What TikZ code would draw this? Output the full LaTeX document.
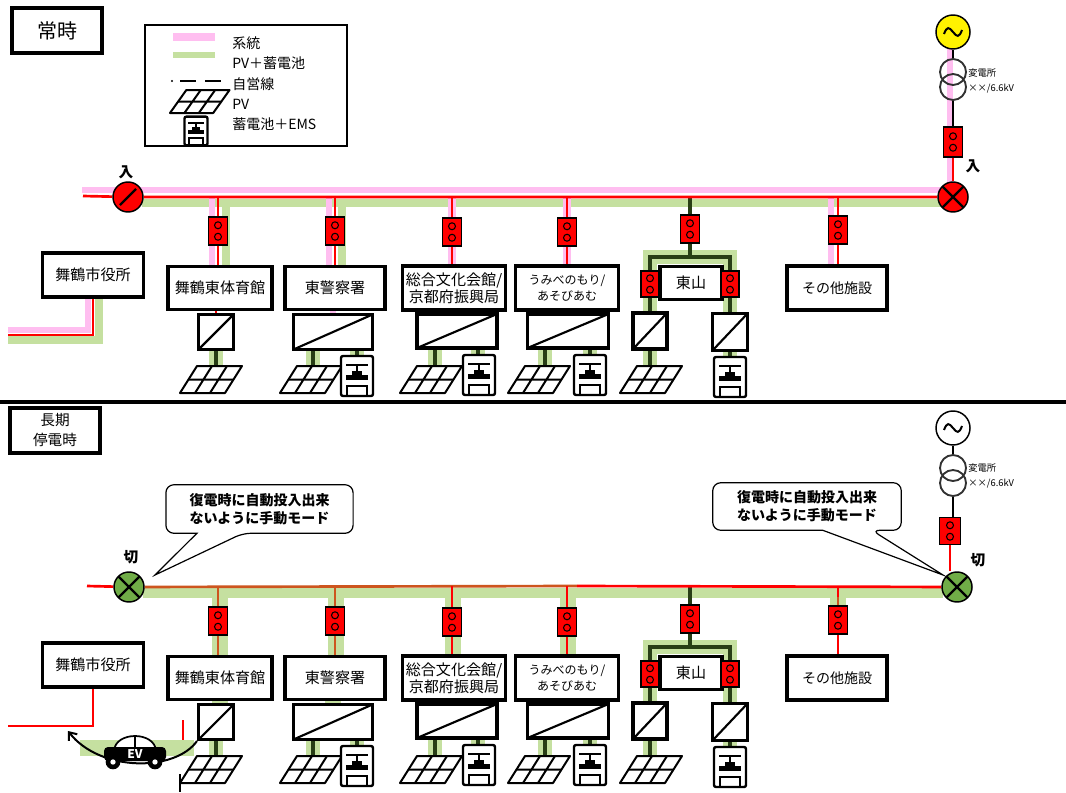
\documentclass[tikz,border=0pt]{standalone}
\usepackage{fontspec}
\setmainfont{Noto Sans CJK JP}
\usetikzlibrary{calc,arrows.meta}

\pgfdeclarelayer{bg}
\pgfdeclarelayer{mid}
\pgfsetlayers{bg,mid,main}

\definecolor{pinkband}{RGB}{255,190,240}
\definecolor{greenband}{RGB}{197,224,160}
\definecolor{dkgreen}{RGB}{40,62,22}
\definecolor{swgreen}{RGB}{112,173,71}
\definecolor{brn}{RGB}{205,85,30}
\definecolor{trgray}{RGB}{50,50,50}

\tikzset{
  bld/.style={draw, line width=2.3pt, fill=white, inner sep=1pt, align=center,
    font=\fontsize{11.3}{12.5}\selectfont},
  brk/.style={draw, fill=red, line width=1.3pt, inner sep=0pt,
    minimum width=14.25pt, minimum height=21pt,
    path picture={
      \draw[line width=0.8pt]
        ([yshift=4.3pt]path picture bounding box.center) circle[radius=2.6pt]
        ([yshift=-4.3pt]path picture bounding box.center) circle[radius=2.6pt];
      \fill ([shift={(0.8pt,4.3pt)}]path picture bounding box.center) circle[radius=0.9pt]
        ([shift={(0.8pt,-4.3pt)}]path picture bounding box.center) circle[radius=0.9pt];}},
  pcs/.style={draw, fill=white, line width=2.3pt, inner sep=0pt,
    path picture={\draw[line width=1.6pt] (path picture bounding box.south west)
      -- (path picture bounding box.north east);}},
  sw/.style={circle, draw, line width=1.1pt, inner sep=0pt, minimum size=22.5pt},
  slash/.style={path picture={\draw[line width=1.8pt]
      ([shift={(-6pt,-6pt)}]path picture bounding box.center) --
      ([shift={(6pt,6pt)}]path picture bounding box.center);}},
  crossed/.style={path picture={\draw[line width=1.8pt]
      ([shift={(-8pt,-8pt)}]path picture bounding box.center) -- ([shift={(8pt,8pt)}]path picture bounding box.center)
      ([shift={(-8pt,8pt)}]path picture bounding box.center) -- ([shift={(8pt,-8pt)}]path picture bounding box.center);}},
  titlebox/.style={draw, line width=3pt, fill=white, inner sep=1pt, align=center},
  calloutline/.style={line width=0.9pt, fill=white},
  callouttext/.style={inner sep=0pt, align=center, font=\bfseries\fontsize{10.5}{13.5}\selectfont},
  gen/.style={circle, draw, line width=1.1pt, minimum size=25.5pt, inner sep=0pt},
  trafo/.style={circle, draw=trgray, line width=1.4pt, minimum size=19.5pt, inner sep=0pt},
  swlabel/.style={font=\bfseries\fontsize{11}{12}\selectfont},
  subtxt/.style={font=\fontsize{7}{8}\selectfont, anchor=west, inner sep=0pt},
  legtext/.style={font=\fontsize{10.5}{12}\selectfont, anchor=west, inner sep=0pt},
  feed/.style={red, line width=2pt},
  pinkL/.style={pinkband, line width=5pt},
  greenL/.style={greenband, line width=6.5pt},
  band/.style={greenband, line width=11pt},
  dk/.style={dkgreen, line width=2.6pt},
  pv/.pic={
    \draw[line width=1.5pt, fill=white, line join=round]
      (0,0) -- (45,0) -- (62,-27) -- (17,-27) -- cycle;
    \draw[line width=1.5pt]
      (15,0) -- (32,-27) (30,0) -- (47,-27) (8.5,-13.5) -- (53.5,-13.5);
  },
  batt/.pic={
    \draw[line width=1.8pt, fill=white, rounded corners=1.5pt] (-16,-20) rectangle (16,20);
    \draw[line width=1.4pt] (-11,-11) -- (11,-11) (0,-11) -- (0,-5);
    \fill (-5,-5) rectangle (5,-1);
    \fill (-11,-1) rectangle (11,4);
    \draw[line width=1.4pt] (-10,20) -- (-10,10) -- (10,10) -- (10,20);
  },
}

% Facilities, breakers, power conditioners, PV and batteries of one network
\newcommand\Plant[1]{%
  \node[bld, minimum width=75.75pt, minimum height=33pt] (b0#1) at (93,275) {舞鶴市役所};
  \node[bld, minimum width=78pt, minimum height=32.25pt] (b1#1) at (220,288) {舞鶴東体育館};
  \node[bld, minimum width=75pt, minimum height=32.25pt] (b2#1) at (335,288) {東警察署};
  \node[bld, minimum width=77.25pt, minimum height=33pt] (b3#1) at (454,288) {総合文化会館/\\京都府振興局};
  \node[bld, minimum width=77.25pt, minimum height=33pt, font=\fontsize{9}{12}\selectfont] (b4#1) at (567,288) {うみべのもり/\\あそびあむ};
  \node[bld, minimum width=46.5pt, minimum height=24.75pt] (b5#1) at (691,283) {東山};
  \node[bld, minimum width=75pt, minimum height=33pt, font=\fontsize{10.5}{12}\selectfont] (b6#1) at (837,288) {その他施設};
  \node[brk] (k1#1) at (218,231) {};
  \node[brk] (k2#1) at (335,231) {};
  \node[brk] (k3#1) at (452,232) {};
  \node[brk] (k4#1) at (567,232) {};
  \node[brk] (k5#1) at (690,229) {};
  \node[brk, minimum width=13.5pt, minimum height=19.5pt] (k5L#1) at (650,284) {};
  \node[brk, minimum width=13.5pt, minimum height=19.5pt] (k5R#1) at (730,284) {};
  \node[brk] (k6#1) at (838,230) {};
  \node[pcs, minimum width=26.25pt, minimum height=26.25pt] (p1#1) at (216,332) {};
  \node[pcs, minimum width=59.25pt, minimum height=26.25pt] (p2#1) at (333,332) {};
  \node[pcs, minimum width=60pt, minimum height=25.5pt] (p3#1) at (457,331) {};
  \node[pcs, minimum width=60.75pt, minimum height=25.5pt] (p4#1) at (568,331) {};
  \node[pcs, minimum width=25.5pt, minimum height=27pt] (p5L#1) at (650,331) {};
  \node[pcs, minimum width=26.25pt, minimum height=27.75pt] (p5R#1) at (730,332) {};
  \pic at (180,393) {pv};
  \pic at (280,393) {pv};
  \pic at (400,393) {pv};
  \pic at (508,393) {pv};
  \pic at (620,393) {pv};
  \pic at (357,376) {batt};
  \pic at (479,375) {batt};
  \pic at (590,375) {batt};
  \pic at (730,377) {batt};
  \begin{pgfonlayer}{bg}
    \draw[band] (650,372) -- (650,257) -- (730,257) -- (730,360);
    \foreach \x in {216,313,435,545} \draw[band] (\x,345) -- (\x,368);
    \foreach \x in {357,478,590} \draw[band] (\x,345) -- (\x,357);
  \end{pgfonlayer}
  \begin{pgfonlayer}{mid}
    \draw[dk] (p1#1.south) -- ++(0,17);
    \draw[dk] ($(p2#1.south)+(-20,0)$) -- ++(0,17);
    \draw[dk] ($(p2#1.south)+(24,0)$) -- ++(0,6);
    \draw[dk] ($(p3#1.south)+(-22,0)$) -- ++(0,18);
    \draw[dk] ($(p3#1.south)+(21,0)$) -- ++(0,7);
    \draw[dk] ($(p4#1.south)+(-23,0)$) -- ++(0,18);
    \draw[dk] ($(p4#1.south)+(22,0)$) -- ++(0,7);
    \draw[dk] (k5#1 |- 0,196) -- (k5#1.north) (k5#1.south) -- (690,257) -| (k5L#1.north)
      (k5L#1.south) -- (p5L#1.north) (p5L#1.south) -- ++(0,17);
    \draw[dk] (690,257) -| (k5R#1.north) (k5R#1.south) -- (p5R#1.north) (p5R#1.south) -- ++(0,7);
  \end{pgfonlayer}
}

\begin{document}
\begin{tikzpicture}[x=0.75pt, y=-0.75pt]
\useasboundingbox (0,0) rectangle (1066,792);
\begin{pgfonlayer}{bg}
  \fill[white] (0,0) rectangle (1066,792);
\end{pgfonlayer}

% ================= normal operation =================
\node[titlebox, minimum width=67.5pt, minimum height=33.75pt, font=\fontsize{15}{16}\selectfont] (mode1) at (57,30.5) {常時};

% legend
\node[draw, line width=1pt, minimum width=151.5pt, minimum height=90.75pt] (leg) at (246,85.5) {};
\draw[pinkband, line width=6pt] (173,37) -- (215,37);
\draw[greenband, line width=4.5pt] (173,55) -- (215,55);
\fill (172,81) circle[radius=0.9pt];
\draw[line width=1.3pt] (180,81) -- (196,81) (205,81) -- (221,81);
\pic[xscale=0.96, yscale=0.85] at (170,113) {pv};
\pic[scale=0.72] at (196,131) {batt};
\node[legtext] (lg1) at (232,43) {系統};
\node[legtext] (lg2) at (232,63) {PV＋蓄電池};
\node[legtext] (lg3) at (232,84) {自営線};
\node[legtext] (lg4) at (232,104) {PV};
\node[legtext] (lg5) at (232,124) {蓄電池＋EMS};

% substation
\node[gen, fill=yellow] (genA) at (953,32) {};
\draw[line width=1.5pt] ($(genA.center)+(-9,2)$) .. controls +(3,-8) and +(-4,-5) .. ++(9,-2)
  .. controls +(4,5) and +(-3,8) .. ++(9,-2);
\node[trafo] (trA1) at (953,72) {};
\node[trafo] (trA2) at (953,87) {};
\node[brk, minimum height=22.5pt] (kSA) at (953,142) {};
\node[subtxt] (subA1) at (968,73) {変電所};
\node[subtxt] (subA2) at (968,89) {××/6.6kV};

% bus and switches
\coordinate (busT) at (0,196);
\node[sw, fill=red, slash] (swA) at (128,197) {};
\node[sw, fill=red, crossed] (swB) at (953,197) {};
\node[swlabel] (inA) at (126,172) {入};
\node[swlabel] (inB) at (973,166) {入};

\Plant{t}

\begin{pgfonlayer}{bg}
  \draw[pinkL] (82,190) -- (953,190);
  \draw[greenL] (142,203) -- (946,203);
  \draw[pinkL] (950,49) -- (950,190);
  % city hall
  \draw[pinkL] (88,297) -- (88,330) -- (8,330);
  \draw[greenL] (99,297) -- (99,340) -- (8,340);
  % feeders
  \draw[pinkL] (212,196) -- (212,266);
  \draw[greenL] (226,200) -- (226,266);
  \draw[pinkL] (329,196) -- (329,266) (333,309) -- (333,315);
  \draw[greenL] (342,200) -- (342,266);
  \draw[pinkL, line width=6pt] (452,196) -- (452,266) (455,309) -- (455,315);
  \draw[pinkL, line width=6pt] (567,196) -- (567,266) (567,309) -- (567,315);
  \draw[pinkL] (831,196) -- (831,266);
\end{pgfonlayer}
\begin{pgfonlayer}{mid}
  \draw[feed] (83,196) -- (swA) -- (swB);
  \draw[line width=1.5pt] (genA) -- (trA1) (trA2) -- (kSA);
  \draw[feed] (kSA) -- (swB);
  \draw[feed] (b0t.south) -- (b0t.south |- 0,335) -- (8,335);
  \draw[feed] (k1t |- busT) -- (k1t.north) (k1t.south) -- (k1t.south |- b1t.north)
    (p1t.north |- b1t.south) -- (p1t.north);
  \draw[feed] (k2t |- busT) -- (k2t.north) (k2t.south) -- (k2t.south |- b2t.north);
  \draw[feed] (k3t |- busT) -- (k3t.north) (k3t.south) -- (k3t.south |- b3t.north);
  \draw[feed] (k4t |- busT) -- (k4t.north) (k4t.south) -- (k4t.south |- b4t.north);
  \draw[feed] (k6t |- busT) -- (k6t.north) (k6t.south) -- (k6t.south |- b6t.north);
\end{pgfonlayer}

% ================= long outage =================
\draw[line width=2.5pt] (0,402) -- (1066,402);
\node[titlebox, minimum width=67.5pt, minimum height=33.75pt, font=\fontsize{11}{15}\selectfont] (mode2) at (55,430) {長期\\停電時};

% substation
\node[gen, fill=white] (genB) at (953,428) {};
\draw[line width=1.5pt] ($(genB.center)+(-9,2)$) .. controls +(3,-8) and +(-4,-5) .. ++(9,-2)
  .. controls +(4,5) and +(-3,8) .. ++(9,-2);
\node[trafo] (trB1) at (953,468) {};
\node[trafo] (trB2) at (953,483) {};
\node[brk, minimum width=15.75pt, minimum height=20.25pt] (kSB) at (950,531) {};
\node[subtxt] (subB1) at (968,468) {変電所};
\node[subtxt] (subB2) at (968,484) {××/6.6kV};

% bus and switches
\coordinate (busU) at (0,586);
\node[sw, fill=swgreen, crossed] (swC) at (129,587) {};
\node[sw, fill=swgreen, crossed] (swD) at (957,587) {};
\node[swlabel] (offC) at (131,557) {切};
\node[swlabel] (offD) at (978,560) {切};

% callouts
\node[callouttext, minimum width=140pt, minimum height=36pt] (c1) at (259.5,509) {復電時に自動投入出来\\ないように手動モード};
\node[callouttext, minimum width=141pt, minimum height=35.25pt] (c2) at (807,506.5) {復電時に自動投入出来\\ないように手動モード};

\begin{scope}[shift={(0,390)}]
  \Plant{u}
\end{scope}

\begin{pgfonlayer}{bg}
  \draw[greenband, line width=7.5pt] (143,593) -- (943,593);
  \draw[band, line width=12pt] (220,597) -- (220,657) (220,700) -- (220,706);
  \draw[band, line width=12pt] (336,597) -- (336,657) (333,700) -- (333,706);
  \draw[band, line width=12pt] (453,597) -- (453,657);
  \draw[band, line width=12pt] (568,597) -- (568,657);
  \draw[band, line width=12pt] (838,595) -- (838,609);
  \draw[greenband, line width=12pt] (80,748) -- (194,748);
\end{pgfonlayer}
\begin{pgfonlayer}{mid}
  % callout outlines
  \draw[calloutline] (c1.west) [rounded corners=6pt] -- (c1.north west) -- (c1.north east)
    -- (c1.south east) -- ($(c1.south west)+(77,0)$) [sharp corners] -- (155,575)
    -- ($(c1.south west)+(31,0)$) [rounded corners=6pt] -- (c1.south west) -- cycle;
  \draw[calloutline] (c2.west) [rounded corners=6pt] -- (c2.north west) -- (c2.north east)
    -- (c2.south east) -- ($(c2.south west)+(159,0)$) [sharp corners] -- (943,575)
    -- ($(c2.south west)+(110,0)$) [rounded corners=6pt] -- (c2.south west) -- cycle;
  % bus
  \draw[feed] (87,586) -- (swC);
  \draw[brn, line width=2pt] (swC) -- (577,586);
  \draw[feed] (577,586) -- (swD);
  \draw[line width=1.5pt] (genB) -- (trB1) (trB2.south) -- (trB2.south |- kSB.north);
  \draw[feed] (kSB.south) -- (kSB.south |- swD.north);
  % feeders
  \draw[brn, line width=2pt] (k1u |- busU) -- (k1u.north) (k1u.south) -- (k1u.south |- b1u.north);
  \draw[brn, line width=2pt] (k2u |- busU) -- (k2u.north) (k2u.south) -- (k2u.south |- b2u.north);
  \draw[feed] (k3u |- busU) -- (k3u.north) (k3u.south) -- (k3u.south |- b3u.north)
    (p3u.north |- b3u.south) -- (p3u.north);
  \draw[feed] (k4u |- busU) -- (k4u.north) (k4u.south) -- (k4u.south |- b4u.north)
    (p4u.north |- b4u.south) -- (p4u.north);
  \draw[feed] (k6u |- busU) -- (k6u.north) (k6u.south) -- (k6u.south |- b6u.north);
  \draw[brn, line width=2pt] (838,597) -- (k6u.north);
  % city hall and EV
  \draw[feed, line width=2.2pt] (b0u.south) -- (b0u.south |- 0,726) -- (8,726);
  \draw[line width=1.5pt, -{Straight Barb[length=5pt, width=8pt]}] (p1u.south west)
    .. controls (175,772) and (100,772) .. (68,731);
  \draw[red, line width=2.2pt] (183,720) -- (183,740);
  \draw[line width=1.5pt] (180,774) -- (180,792);
\end{pgfonlayer}

% EV
\draw[line width=1.3pt, fill=white] (114,751) .. controls (115,731) and (155,731) .. (156,751) -- cycle;
\draw[line width=1.2pt] (135,735) -- (135,751);
\fill[rounded corners=3pt] (104,747) rectangle (166,761);
\node[font=\bfseries\fontsize{9}{9}\selectfont, text=white, inner sep=0pt] (ev) at (135,754) {EV};
\fill (113,762) circle[radius=5.5pt] (155,762) circle[radius=5.5pt];
\fill[white] (113,762) circle[radius=2pt] (155,762) circle[radius=2pt];
\end{tikzpicture}
\end{document}
